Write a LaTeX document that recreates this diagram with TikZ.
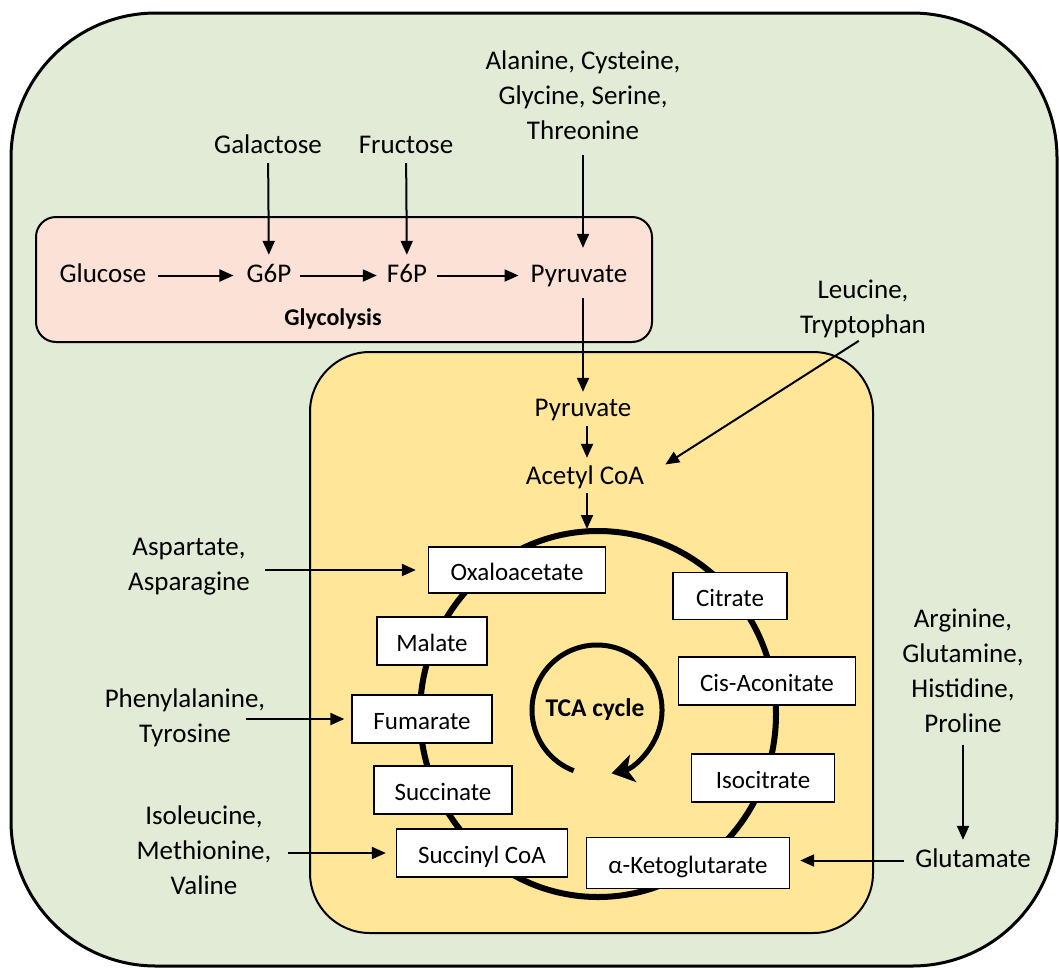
\documentclass[tikz,border=0pt]{standalone}
\usepackage{fontspec}
\setmainfont{Carlito}
\usetikzlibrary{arrows.meta}
\definecolor{cellgreen}{HTML}{E2EBD6}
\definecolor{glyco}{HTML}{FCE1D6}
\definecolor{mito}{HTML}{FFE699}
\begin{document}
\begin{tikzpicture}[x=1pt,y=-1pt,
  lbl/.style={align=center,font=\fontsize{27}{35}\selectfont,inner sep=0pt},
  met/.style={font=\fontsize{27}{35}\selectfont,inner sep=0pt,text height=19pt,text depth=6pt},
  box/.style={draw=black,line width=1.3pt,fill=white,font=\fontsize{25}{30}\selectfont,
              inner sep=0pt,text height=21pt,text depth=1pt},
  arr/.style={line width=2pt,-{Triangle[length=14pt,width=12pt]}},
  cyc/.style={line width=6pt},
]
\useasboundingbox (0,0) rectangle (1059,969);
% compartments
\draw[line width=3pt,fill=cellgreen,rounded corners=145pt] (11,13) rectangle (1057,966);
\draw[line width=2pt,fill=glyco,rounded corners=20pt] (36,217) rectangle (652,342);
\draw[line width=2pt,fill=mito,rounded corners=60pt] (310,352) rectangle (873,933);

% top labels
\node[met] (gal) at (268,146.5) {Galactose};
\node[met] (fru) at (406,146.5) {Fructose};
\node[lbl] (ala) at (583,95) {Alanine, Cysteine,\\Glycine, Serine,\\Threonine};

% glycolysis row
\node[met] (glc) at (103,275.5) {Glucose};
\node[met] (g6p) at (269,275.5) {G6P};
\node[met] (f6p) at (407,275.5) {F6P};
\node[met] (pyr) at (579,275.5) {Pyruvate};
\node[font=\bfseries\fontsize{24}{28}\selectfont,inner sep=0pt] (gly) at (333,319) {Glycolysis};

\draw[arr,shorten <=11pt,shorten >=13pt] (glc) -- (g6p);
\draw[arr,shorten <=8pt,shorten >=10pt] (g6p) -- (f6p);
\draw[arr,shorten <=10pt,shorten >=12pt] (f6p) -- (pyr);
\draw[arr,shorten <=4pt,shorten >=8pt] (gal) -- (g6p);
\draw[arr,shorten <=4pt,shorten >=8pt] (fru) -- (f6p);
\draw[arr,shorten <=15pt,shorten >=15pt] (ala.south) -- (ala.south |- pyr.north);

% leucine
\node[lbl] (leu) at (863,309) {Leucine,\\Tryptophan};

% mitochondrion
\node[met] (pyr2) at (583,409.5) {Pyruvate};
\node[met] (acoa) at (585,477.5) {Acetyl CoA};
\coordinate (tcatop) at (587,529);
\draw[arr,shorten <=10pt,shorten >=5pt] (ala.south |- pyr.south) -- (ala.south |- pyr2.north);
\draw[arr,shorten <=4pt,shorten >=7pt] (pyr2.south -| tcatop) -- (acoa.north -| tcatop);
\draw[arr,shorten <=3pt] (acoa.south -| tcatop) -- (tcatop);
\draw[arr,shorten <=5pt] (leu.south) -- ([shift={(21,-13)}]acoa.east);

% TCA cycle ring
\draw[cyc] (598,714) ellipse[x radius=178,y radius=183];
\draw[line width=5pt,-{Stealth[length=22pt,width=28pt,inset=6pt]}]
  (597,710) ++(111:65) arc[start angle=111,end angle=437,radius=65];
\node[font=\bfseries\fontsize{25.5}{30}\selectfont,inner sep=0pt] (tca) at (595,710) {TCA cycle};

% metabolite boxes
\node[box,minimum width=177pt,minimum height=46pt] (oxa) at (517,570) {Oxaloacetate};
\node[box,minimum width=114pt,minimum height=47pt] (cit) at (730,596) {Citrate};
\node[box,minimum width=110pt,minimum height=48pt] (mal) at (432,641) {Malate};
\node[box,minimum width=177pt,minimum height=48pt] (cis) at (767,681) {Cis-Aconitate};
\node[box,minimum width=140pt,minimum height=48pt] (fum) at (422,719) {Fumarate};
\node[box,minimum width=138pt,minimum height=48pt] (suc) at (443,790) {Succinate};
\node[box,minimum width=143pt,minimum height=48pt] (iso) at (763,778) {Isocitrate};
\node[box,minimum width=171pt,minimum height=48pt] (sca) at (482,853) {Succinyl CoA};
\node[box,minimum width=203pt,minimum height=51pt] (akg) at (688,863) {α-Ketoglutarate};

% amino acid inputs
\node[lbl] (asp) at (189,566.5) {Aspartate,\\Asparagine};
\node[lbl] (phe) at (185,718) {Phenylalanine,\\Tyrosine};
\node[lbl] (ile) at (204,850) {Isoleucine,\\Methionine,\\Valine};
\node[lbl] (arg) at (963,670.5) {Arginine,\\Glutamine,\\Histidine,\\Proline};
\node[met] (glu) at (973,860.5) {Glutamate};

\draw[arr,shorten <=15pt,shorten >=12pt] (asp.east |- oxa.west) -- (oxa.west);
\draw[arr,shorten >=7pt] ([xshift=-19pt]phe.east |- fum.west) -- (fum.west);
\draw[arr,shorten <=16pt,shorten >=10pt] (ile.east |- sca.west) -- (sca.west);
\draw[arr,shorten <=12pt,shorten >=8pt] (arg.south) -- (arg.south |- glu.north);
\draw[arr,shorten <=11pt,shorten >=10pt] (glu.west) -- (glu.west -| akg.east);
\end{tikzpicture}
\end{document}
